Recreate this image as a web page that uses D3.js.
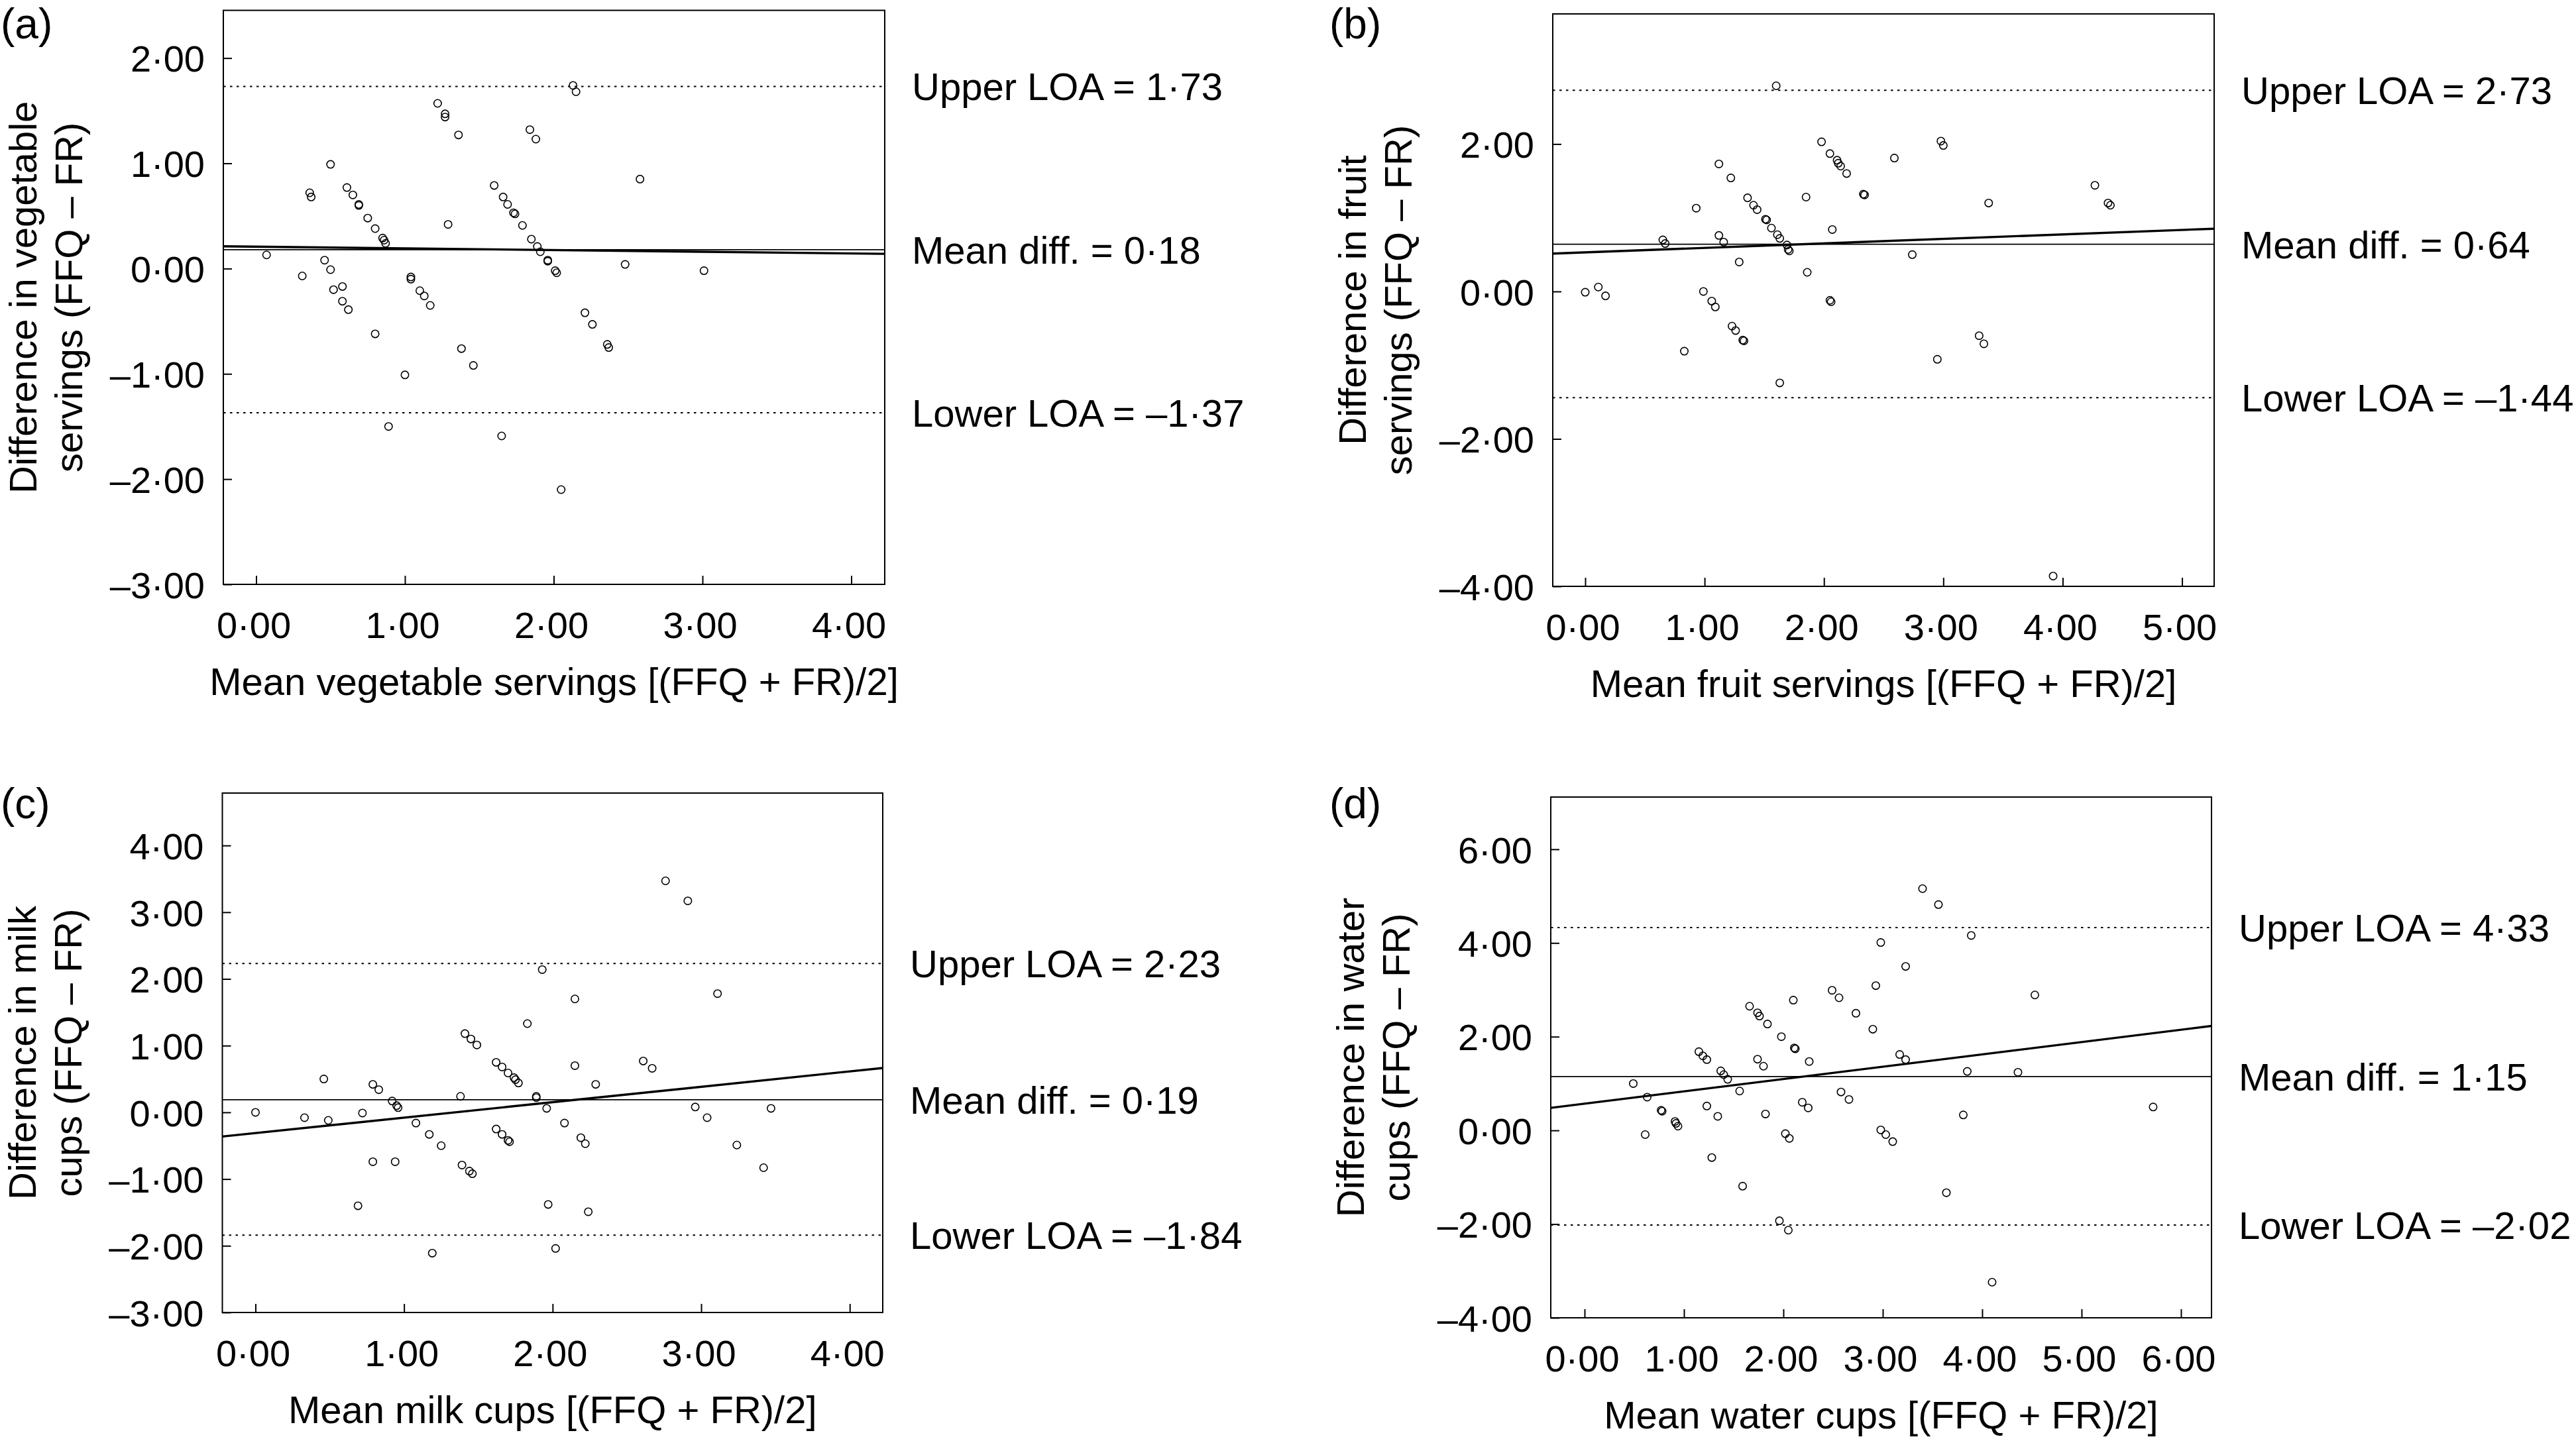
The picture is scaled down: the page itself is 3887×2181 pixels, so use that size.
<!DOCTYPE html>
<html>
<head>
<meta charset="utf-8">
<script src="https://cdn.jsdelivr.net/npm/d3@7"></script>
<style>
  html, body { margin: 0; padding: 0; background: #fff; }
  svg { display: block; }
</style>
</head>
<body>
<svg id="chart" width="3887" height="2181"></svg>
<script>
// ---------------- DATA ----------------
// (a) vegetable servings: [mean, difference]
const vegPoints = [[0.07,0.13],[0.31,-0.07],[0.46,0.08],[0.50,-0.01],[0.50,0.99],[0.36,0.72],[0.37,0.68],[0.52,-0.20],[0.58,-0.17],[0.58,-0.31],[0.62,-0.39],[0.61,0.77],[0.65,0.70],[0.69,0.61],[0.69,0.60],[0.75,0.48],[0.80,0.38],[0.85,0.29],[0.86,0.27],[0.87,0.24],[0.80,-0.62],[0.89,-1.50],[1.00,-1.01],[1.04,-0.08],[1.04,-0.10],[1.10,-0.21],[1.13,-0.26],[1.17,-0.35],[1.22,1.57],[1.27,1.47],[1.27,1.44],[1.36,1.27],[1.29,0.42],[1.38,-0.76],[1.46,-0.92],[1.60,0.79],[1.66,0.68],[1.69,0.61],[1.73,0.53],[1.74,0.52],[1.79,0.41],[1.85,0.28],[1.89,0.21],[1.91,0.16],[1.96,0.08],[1.96,0.07],[2.01,-0.02],[2.02,-0.04],[1.65,-1.59],[1.84,1.32],[1.88,1.23],[2.13,1.74],[2.15,1.68],[2.05,-2.10],[2.21,-0.42],[2.26,-0.53],[2.36,-0.72],[2.37,-0.75],[2.48,0.04],[2.58,0.85],[3.01,-0.02]];
// (b) fruit servings
const fruitPoints = [[0.00,-0.01],[0.11,0.06],[0.17,-0.06],[0.65,0.70],[0.67,0.65],[0.83,-0.81],[0.93,1.13],[0.99,0.00],[1.06,-0.13],[1.09,-0.21],[1.12,0.76],[1.16,0.67],[1.12,1.73],[1.22,1.54],[1.23,-0.47],[1.26,-0.53],[1.32,-0.66],[1.33,-0.67],[1.29,0.40],[1.36,1.27],[1.41,1.17],[1.44,1.11],[1.51,0.98],[1.52,0.97],[1.56,0.86],[1.61,0.77],[1.63,0.72],[1.69,0.63],[1.70,0.57],[1.71,0.55],[1.60,2.79],[1.63,-1.24],[1.85,1.28],[1.86,0.26],[1.98,2.03],[2.05,1.87],[2.11,1.78],[2.12,1.74],[2.14,1.70],[2.19,1.60],[2.07,0.84],[2.05,-0.12],[2.06,-0.14],[2.33,1.32],[2.34,1.31],[2.59,1.81],[2.74,0.50],[2.95,-0.92],[2.98,2.04],[3.00,1.98],[3.30,-0.60],[3.34,-0.71],[3.38,1.20],[3.92,-3.86],[4.27,1.44],[4.38,1.20],[4.40,1.17]];
// (c) milk cups
const milkPoints = [[0.00,0.00],[0.33,-0.08],[0.49,-0.12],[0.46,0.50],[0.72,-0.01],[0.69,-1.40],[0.79,0.42],[0.83,0.34],[0.79,-0.74],[0.92,0.17],[0.95,0.10],[0.96,0.07],[0.94,-0.74],[1.08,-0.16],[1.17,-0.33],[1.19,-2.11],[1.25,-0.50],[1.38,0.24],[1.39,-0.79],[1.41,1.18],[1.45,1.10],[1.49,1.01],[1.44,-0.88],[1.46,-0.92],[1.62,0.75],[1.66,0.68],[1.70,0.59],[1.74,0.52],[1.75,0.49],[1.77,0.44],[1.62,-0.25],[1.66,-0.33],[1.70,-0.42],[1.71,-0.44],[1.83,1.33],[1.89,0.24],[1.89,0.22],[1.93,2.14],[1.96,0.06],[1.97,-1.38],[2.02,-2.04],[2.08,-0.16],[2.15,1.70],[2.15,0.70],[2.19,-0.38],[2.22,-0.47],[2.24,-1.49],[2.29,0.42],[2.61,0.77],[2.67,0.66],[2.76,3.47],[2.91,3.17],[2.96,0.08],[3.04,-0.08],[3.11,1.78],[3.24,-0.49],[3.42,-0.83],[3.47,0.06]];
// (d) water cups
const waterPoints = [[0.49,1.00],[0.61,-0.09],[0.63,0.71],[0.77,0.43],[0.78,0.41],[0.91,0.19],[0.92,0.15],[0.94,0.09],[1.15,1.68],[1.19,1.59],[1.23,1.51],[1.23,0.52],[1.28,-0.58],[1.34,0.30],[1.37,1.27],[1.40,1.19],[1.44,1.09],[1.56,0.84],[1.59,-1.19],[1.66,2.65],[1.74,2.51],[1.76,2.44],[1.74,1.52],[1.80,1.37],[1.82,0.35],[1.84,2.27],[1.96,-1.93],[1.98,2.00],[2.02,-0.07],[2.06,-0.17],[2.05,-2.13],[2.10,2.78],[2.11,1.76],[2.12,1.74],[2.19,0.60],[2.25,0.48],[2.26,1.47],[2.49,2.99],[2.56,2.83],[2.58,0.82],[2.66,0.66],[2.73,2.50],[2.90,2.16],[2.93,3.09],[2.98,4.01],[2.98,0.01],[3.03,-0.09],[3.10,-0.24],[3.17,1.62],[3.23,1.51],[3.23,3.50],[3.40,5.16],[3.56,4.82],[3.64,-1.33],[3.81,0.33],[3.85,1.26],[3.89,4.16],[4.10,-3.24],[4.36,1.24],[4.53,2.89],[5.72,0.50]];

// Limits of agreement: [upper LOA, mean difference, lower LOA]
const vegStats = [1.73, 0.18, -1.37];
const fruitStats = [2.73, 0.64, -1.44];
const milkStats = [2.23, 0.19, -1.84];
const waterStats = [4.33, 1.15, -2.02];
const statNames = ["Upper LOA", "Mean diff.", "Lower LOA"];

// Regression lines of difference on mean: [intercept, slope]
const vegReg = [0.208, -0.016];
const fruitReg = [0.53, 0.061];
const milkReg = [-0.31, 0.231];
const waterReg = [0.57, 0.263];

// Tick values
const vegXTicks = [0, 1, 2, 3, 4];
const vegYTicks = [-3, -2, -1, 0, 1, 2];
const fruitXTicks = [0, 1, 2, 3, 4, 5];
const fruitYTicks = [-4, -2, 0, 2];
const milkXTicks = [0, 1, 2, 3, 4];
const milkYTicks = [-3, -2, -1, 0, 1, 2, 3, 4];
const waterXTicks = [0, 1, 2, 3, 4, 5, 6];
const waterYTicks = [-4, -2, 0, 2, 4, 6];

// Texts
const panelLabels = ["(a)", "(b)", "(c)", "(d)"];
const yTitles = [
  ["Difference in vegetable", "servings (FFQ \u2013 FR)"],
  ["Difference in fruit", "servings (FFQ \u2013 FR)"],
  ["Difference in milk", "cups (FFQ \u2013 FR)"],
  ["Difference in water", "cups (FFQ \u2013 FR)"]
];
const xTitles = [
  "Mean vegetable servings [(FFQ + FR)/2]",
  "Mean fruit servings [(FFQ + FR)/2]",
  "Mean milk cups [(FFQ + FR)/2]",
  "Mean water cups [(FFQ + FR)/2]"
];

// ---------------- LAYOUT ----------------
const FONT = "'Liberation Sans', Arial, Helvetica, sans-serif";
const layout = [
  {box:{x0:337, x1:1335, y0:15.6, y1:882}, xd:[-0.2205, 4.2249], yd:[-3, 2.4536], lab:{x:1, y:58}},
  {box:{x0:2343, x1:3341, y0:21, y1:885}, xd:[-0.272, 5.269], yd:[-4, 3.765], lab:{x:2006, y:58}},
  {box:{x0:335.5, x1:1332, y0:1197, y1:1981}, xd:[-0.223, 4.222], yd:[-3, 4.786], lab:{x:1, y:1235}},
  {box:{x0:2340, x1:3337, y0:1203, y1:1989}, xd:[-0.34, 6.307], yd:[-4, 7.115], lab:{x:2006, y:1235}}
];

const panels = [
  {pts: vegPoints, stats: vegStats, reg: vegReg, xt: vegXTicks, yt: vegYTicks},
  {pts: fruitPoints, stats: fruitStats, reg: fruitReg, xt: fruitXTicks, yt: fruitYTicks},
  {pts: milkPoints, stats: milkStats, reg: milkReg, xt: milkXTicks, yt: milkYTicks},
  {pts: waterPoints, stats: waterStats, reg: waterReg, xt: waterXTicks, yt: waterYTicks}
];

const fmt = v => (v < 0 ? "\u2013" : "") + Math.abs(v).toFixed(2).replace(".", "\u00B7");

const svg = d3.select("#chart");
svg.append("rect").attr("width", 3887).attr("height", 2181).attr("fill", "#fff");

panels.forEach((p, i) => {
  const L = layout[i], b = L.box;
  const x = d3.scaleLinear().domain(L.xd).range([b.x0, b.x1]);
  const y = d3.scaleLinear().domain(L.yd).range([b.y1, b.y0]);
  const g = svg.append("g");

  const clipId = "clip" + i;
  g.append("clipPath").attr("id", clipId).append("rect")
    .attr("x", b.x0).attr("y", b.y0).attr("width", b.x1 - b.x0).attr("height", b.y1 - b.y0);
  const plot = g.append("g").attr("clip-path", `url(#${clipId})`);

  // LOA dotted lines
  [p.stats[0], p.stats[2]].forEach(v => {
    plot.append("line")
      .attr("x1", b.x0).attr("x2", b.x1).attr("y1", y(v)).attr("y2", y(v))
      .attr("stroke", "#000").attr("stroke-width", 2).attr("stroke-dasharray", "3.5,6.5");
  });
  // mean difference
  plot.append("line")
    .attr("x1", b.x0).attr("x2", b.x1).attr("y1", y(p.stats[1])).attr("y2", y(p.stats[1]))
    .attr("stroke", "#000").attr("stroke-width", 1.8);
  // regression
  const line = d3.line().x(d => x(d)).y(d => y(p.reg[0] + p.reg[1] * d));
  plot.append("path").attr("d", line(L.xd))
    .attr("fill", "none").attr("stroke", "#000").attr("stroke-width", 3.4);

  // points
  plot.selectAll("circle").data(p.pts).join("circle")
    .attr("cx", d => x(d[0])).attr("cy", d => y(d[1])).attr("r", 5.7)
    .attr("fill", "none").attr("stroke", "#000").attr("stroke-width", 1.6);

  // axes
  const ya = g.append("g").attr("transform", `translate(${b.x0},0)`)
    .call(d3.axisLeft(y).tickValues(p.yt).tickSize(-13).tickPadding(28).tickFormat(fmt));
  const xa = g.append("g").attr("transform", `translate(0,${b.y1})`)
    .call(d3.axisBottom(x).tickValues(p.xt).tickSize(-13).tickPadding(41).tickFormat(fmt));
  [ya, xa].forEach(a => {
    a.select(".domain").remove();
    a.selectAll(".tick line").attr("stroke", "#000").attr("stroke-width", 2);
    a.selectAll("text").attr("fill", "#000").style("font-family", FONT).style("font-size", "56px");
  });
  ya.selectAll("text").attr("dy", "0.36em");
  xa.selectAll("text").attr("dx", -4);

  // frame
  g.append("rect").attr("x", b.x0).attr("y", b.y0)
    .attr("width", b.x1 - b.x0).attr("height", b.y1 - b.y0)
    .attr("fill", "none").attr("stroke", "#000").attr("stroke-width", 2);

  // annotations
  p.stats.forEach((v, k) => {
    g.append("text").attr("x", b.x1 + 41).attr("y", y(v)).attr("dy", "0.36em")
      .style("font-family", FONT).style("font-size", "58px").attr("fill", "#000")
      .text(`${statNames[k]} = ${fmt(v)}`);
  });

  // x title
  g.append("text").attr("x", (b.x0 + b.x1) / 2).attr("y", b.y1 + 167)
    .attr("text-anchor", "middle")
    .style("font-family", FONT).style("font-size", "58px").attr("fill", "#000")
    .text(xTitles[i]);

  // y title (two lines)
  const cy = (b.y0 + b.y1) / 2;
  [[yTitles[i][0], 282], [yTitles[i][1], 213]].forEach(([t, off]) => {
    g.append("text").attr("transform", `translate(${b.x0 - off},${cy}) rotate(-90)`)
      .attr("text-anchor", "middle")
      .style("font-family", FONT).style("font-size", "58px").attr("fill", "#000")
      .text(t);
  });

  // panel label
  g.append("text").attr("x", L.lab.x).attr("y", L.lab.y)
    .style("font-family", FONT).style("font-size", "64px").attr("fill", "#000")
    .text(panelLabels[i]);
});
</script>
</body>
</html>
